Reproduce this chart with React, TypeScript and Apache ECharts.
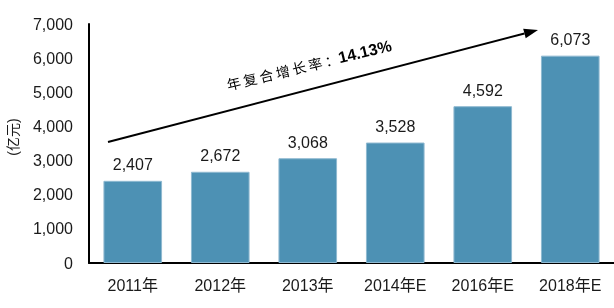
import React, { useEffect, useRef } from "react";
import * as echarts from "echarts";

const categories = ["2011年", "2012年", "2013年", "2014年E", "2016年E", "2018年E"];
const values = [2407, 2672, 3068, 3528, 4592, 6073];
const yTicks = [0, 1000, 2000, 3000, 4000, 5000, 6000, 7000];
const cagrLabel = "年复合增长率：";
const cagrValue = "14.13%";
const unitLabel = "(亿元)";

const fmt = (v: number) => v.toLocaleString("en-US");

export default function App() {
  const ref = useRef<HTMLDivElement>(null);
  useEffect(() => {
    if (!ref.current) return;
    const chart = echarts.init(ref.current, null, { renderer: "svg" });
    const tip = [538, 30];
    const start = [108, 142];
    const dx = tip[0] - start[0];
    const dy = tip[1] - start[1];
    const len = Math.sqrt(dx * dx + dy * dy);
    const ux = dx / len, uy = dy / len;
    const nx = -uy, ny = ux;
    const hl = 14, hw = 5;
    const bx = tip[0] - hl * ux, by = tip[1] - hl * uy;
    const angle = Math.atan2(-dy, dx);
    const spaced = Array.from(cagrLabel).join("\u2009");
    chart.setOption({
      animation: false,
      grid: { left: 89, right: -3, top: 24, bottom: 45, containLabel: false },
      xAxis: {
        type: "category",
        data: categories,
        axisLine: { show: true, lineStyle: { color: "#000", width: 2 } },
        axisTick: { show: false },
        axisLabel: {
          color: "#1a1a1a",
          fontSize: 16,
          margin: 14,
          fontFamily: "Liberation Sans, Noto Sans CJK SC, sans-serif",
        },
      },
      yAxis: {
        type: "value",
        min: 0,
        max: yTicks[yTicks.length - 1],
        interval: 1000,
        axisLine: { show: true, lineStyle: { color: "#000", width: 2 } },
        axisTick: { show: false },
        splitLine: { show: false },
        axisLabel: {
          color: "#1a1a1a",
          fontSize: 16,
          margin: 16,
          fontFamily: "Liberation Sans, sans-serif",
          formatter: (v: number) => fmt(v),
        },
      },
      series: [
        {
          type: "bar",
          data: values,
          barCategoryGap: "33%",
          itemStyle: { color: "#4d91b4", borderColor: "#8fb9d1", borderWidth: 1 },
          label: {
            show: true,
            position: "top",
            distance: 8,
            color: "#1a1a1a",
            fontSize: 16,
            fontFamily: "Liberation Sans, sans-serif",
            formatter: (p: any) => fmt(p.value),
          },
        },
      ],
      graphic: [
        {
          type: "line",
          shape: { x1: start[0], y1: start[1], x2: bx, y2: by },
          style: { stroke: "#000", lineWidth: 2 },
        },
        {
          type: "polygon",
          shape: {
            points: [
              [tip[0], tip[1]],
              [bx + hw * nx, by + hw * ny],
              [bx - hw * nx, by - hw * ny],
            ],
          },
          style: { fill: "#000" },
        },
        {
          type: "text",
          x: 309,
          y: 65,
          rotation: angle - 0.02,
          style: {
            text: "{a|" + spaced + "}{b|" + cagrValue + "}",
            align: "center",
            verticalAlign: "middle",
            rich: {
              a: {
                fontSize: 14,
                fill: "#000",
                fontFamily: "Noto Sans CJK SC, sans-serif",
              },
              b: {
                fontSize: 16,
                fontWeight: "bold",
                fill: "#000",
                fontFamily: "Liberation Sans, sans-serif",
              },
            },
          },
        },
        {
          type: "text",
          x: 13,
          y: 137,
          rotation: Math.PI / 2,
          style: {
            text: unitLabel,
            align: "center",
            verticalAlign: "middle",
            fontSize: 14,
            fill: "#1a1a1a",
            fontFamily: "Liberation Sans, Noto Sans CJK SC, sans-serif",
          },
        },
      ],
    });
    return () => chart.dispose();
  }, []);
  return (
    <div
      ref={ref}
      style={{ position: "fixed", left: 0, top: 0, width: 614, height: 308 }}
    />
  );
}
